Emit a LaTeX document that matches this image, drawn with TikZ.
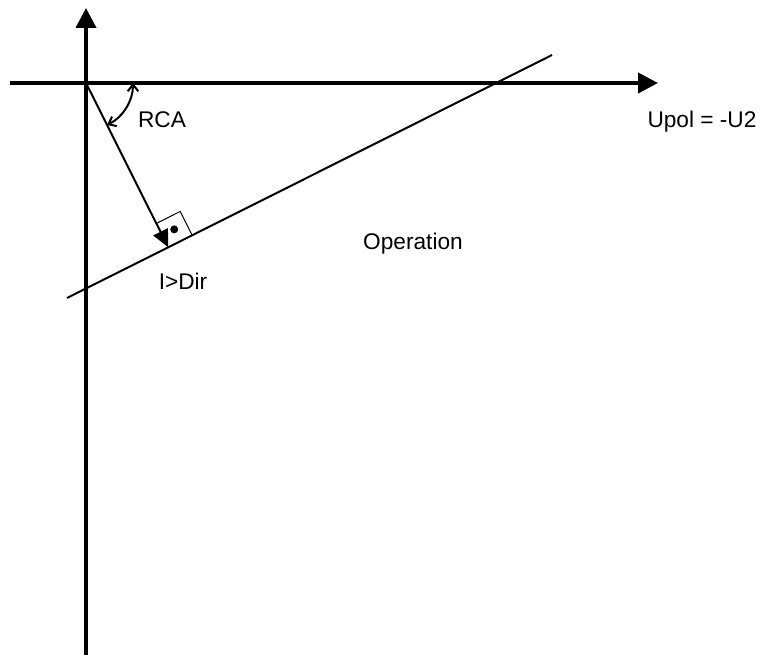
\documentclass[tikz,border=0pt]{standalone}
\usepackage{fontspec}
\setmainfont{Liberation Sans}
\usetikzlibrary{arrows.meta,calc,positioning}
\tikzset{
  axis/.style={line width=3pt,-{Triangle[length=15pt,width=15pt]}},
  lbl/.style={font=\fontsize{17}{20}\selectfont,inner sep=0pt},
}
\begin{document}
\begin{tikzpicture}[x=0.75pt,y=0.75pt]
  \useasboundingbox (-86,-574) rectangle (679,83);
  \coordinate (O) at (0,0);
  \coordinate (ybot) at (0,-572);
  \coordinate (ytop) at (0,75);
  \coordinate (xleft) at (-76,0);
  \coordinate (xright) at (572,0);
  \draw[axis] (ybot) -- (ytop);
  \draw[axis] (xleft) -- (xright);
  \coordinate (A) at (-19,-215);
  \coordinate (B) at (466,28);
  \draw[line width=1.5pt] (A) -- (B);
  \coordinate (F) at ($(A)!(O)!(B)$);
  \draw[line width=1.5pt,-{Triangle[length=13pt,width=12pt]}] (O) -- (F);
  \coordinate (s1) at ($(F)!20pt!(O)$);
  \coordinate (s3) at ($(F)!20pt!(B)$);
  \coordinate (s2) at ($(s1)+(s3)-(F)$);
  \draw[line width=0.75pt] (s1) -- (s2) -- (s3);
  \fill ($(F)!0.5!(s2)$) circle (3pt);
  \draw[line width=1.5pt,{Straight Barb[length=5pt,width=8pt]}-{Straight Barb[length=5pt,width=8pt]}]
    ([shift={(0:47)}]O) arc[start angle=0,end angle=-63.4,radius=47];
  \node[lbl] (rca) at (76,-37) {RCA};
  \node[lbl] (upol) at (616,-39) {Upol = -U2};
  \node[lbl] (op) at (327,-161) {Operation};
  \node[lbl] (idir) at (97,-198) {I>Dir};
\end{tikzpicture}
\end{document}
